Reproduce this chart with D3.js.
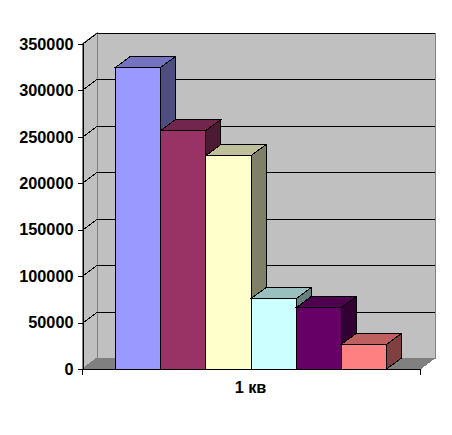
<!DOCTYPE html>
<html><head><meta charset="utf-8">
<script src="https://cdn.jsdelivr.net/npm/d3@7"></script>
<style>html,body{margin:0;padding:0;background:#fff}svg{display:block}text{font-family:"Liberation Sans",Arial,sans-serif;font-weight:bold;font-size:16px;fill:#000}</style>
</head><body><svg id="c" width="452" height="435"></svg>
<script>
const category = "1 кв";
const seriesNames = ["s1","s2","s3","s4","s5","s6"];
const values = [324800, 256800, 229800, 75800, 66100, 26500];
const fronts = ["#9999FF","#993366","#FFFFCC","#CCFFFF","#660066","#FF8080"];
const tops = ["#7373BF","#73264D","#BFBF99","#99BFBF","#4D004D","#BF6060"];
const sides = ["#4D4D80","#4D1A33","#808066","#668080","#330033","#804040"];
const tickValues = [0,50000,100000,150000,200000,250000,300000,350000];

const L=82, R=420, B=369, T=44, DX=15, DY=11;
const svg=d3.select("#c");
const y=d3.scaleLinear().domain([0,350000]).range([B,T]);
const x0=d3.scaleBand().domain([category]).range([L,R]);
const x=d3.scaleBand().domain(seriesNames).range([L,R]).paddingOuter(0.74).paddingInner(0);
const poly=(pts)=>pts.map(p=>p.join(",")).join(" ");
const crisp="crispEdges";

// walls
svg.append("polygon").attr("points",poly([[L,T],[L+DX,T-DY],[L+DX,B-DY],[L,B]])).attr("fill","#C0C0C0").attr("stroke","#808080").attr("shape-rendering",crisp);
svg.append("polygon").attr("points",poly([[L+DX,T-DY],[R+DX,T-DY],[R+DX,B-DY],[L+DX,B-DY]])).attr("fill","#C0C0C0").attr("stroke","#808080").attr("shape-rendering",crisp);
svg.append("polygon").attr("points",poly([[L,B],[L+DX,B-DY],[R+DX,B-DY],[R,B]])).attr("fill","#808080").attr("stroke","#808080").attr("shape-rendering",crisp);

// gridlines
const grid=tickValues.filter(v=>v>0);
svg.selectAll(".gb").data(grid).join("line").attr("x1",L+DX).attr("x2",R+DX)
  .attr("y1",d=>Math.round(y(d))-DY+.5).attr("y2",d=>Math.round(y(d))-DY+.5).attr("stroke","#000").attr("shape-rendering",crisp);
svg.selectAll(".gl").data(grid).join("line").attr("x1",L).attr("x2",L+DX)
  .attr("y1",d=>Math.round(y(d))+.5).attr("y2",d=>Math.round(y(d))-DY+.5).attr("stroke","#000").attr("shape-rendering",crisp);

// bars
const g=svg.selectAll(".bar").data(values).join("g");
g.each(function(v,i){
  const s=d3.select(this), a=x(seriesNames[i]), b=a+x.bandwidth(), t=y(v);
  const add=(pts,f)=>s.append("polygon").attr("points",poly(pts)).attr("fill",f).attr("stroke","#000").attr("stroke-width",1).attr("shape-rendering",crisp);
  add([[b,t],[b+DX,t-DY],[b+DX,B-DY],[b,B]],sides[i]);
  add([[a,t],[a+DX,t-DY],[b+DX,t-DY],[b,t]],tops[i]);
  add([[a,t],[b,t],[b,B],[a,B]],fronts[i]);
});

// axes
const ya=d3.axisLeft(y).tickValues(tickValues).tickSize(5).tickPadding(4).tickFormat(d3.format("d"));
const ay=svg.append("g").attr("transform",`translate(${L+.5},0)`).call(ya);
ay.selectAll("path").attr("stroke","#000").attr("stroke-width",1).attr("shape-rendering",crisp);
ay.selectAll("line").attr("stroke","#000").attr("stroke-width",1).attr("shape-rendering",crisp);
ay.attr("font-family",null).attr("font-size",null);
ay.selectAll("text").style("font-size","16.3px").style("fill","#000");

const xa=d3.axisBottom(x0).tickSize(0).tickPadding(12);
const ax=svg.append("g").attr("transform",`translate(-0.5,${B+.5})`).call(xa);
ax.select("path").remove();
ax.attr("font-family",null).attr("font-size",null);
ax.selectAll("text").style("font-size","16.3px").style("fill","#000");
svg.append("line").attr("x1",L).attr("x2",R).attr("y1",B+.5).attr("y2",B+.5).attr("stroke","#000").attr("stroke-width",1).attr("shape-rendering",crisp);
x0.range().forEach(e=>svg.append("line").attr("x1",e+.5).attr("x2",e+.5).attr("y1",B).attr("y2",B+6).attr("stroke","#000").attr("shape-rendering",crisp));
</script></body></html>
